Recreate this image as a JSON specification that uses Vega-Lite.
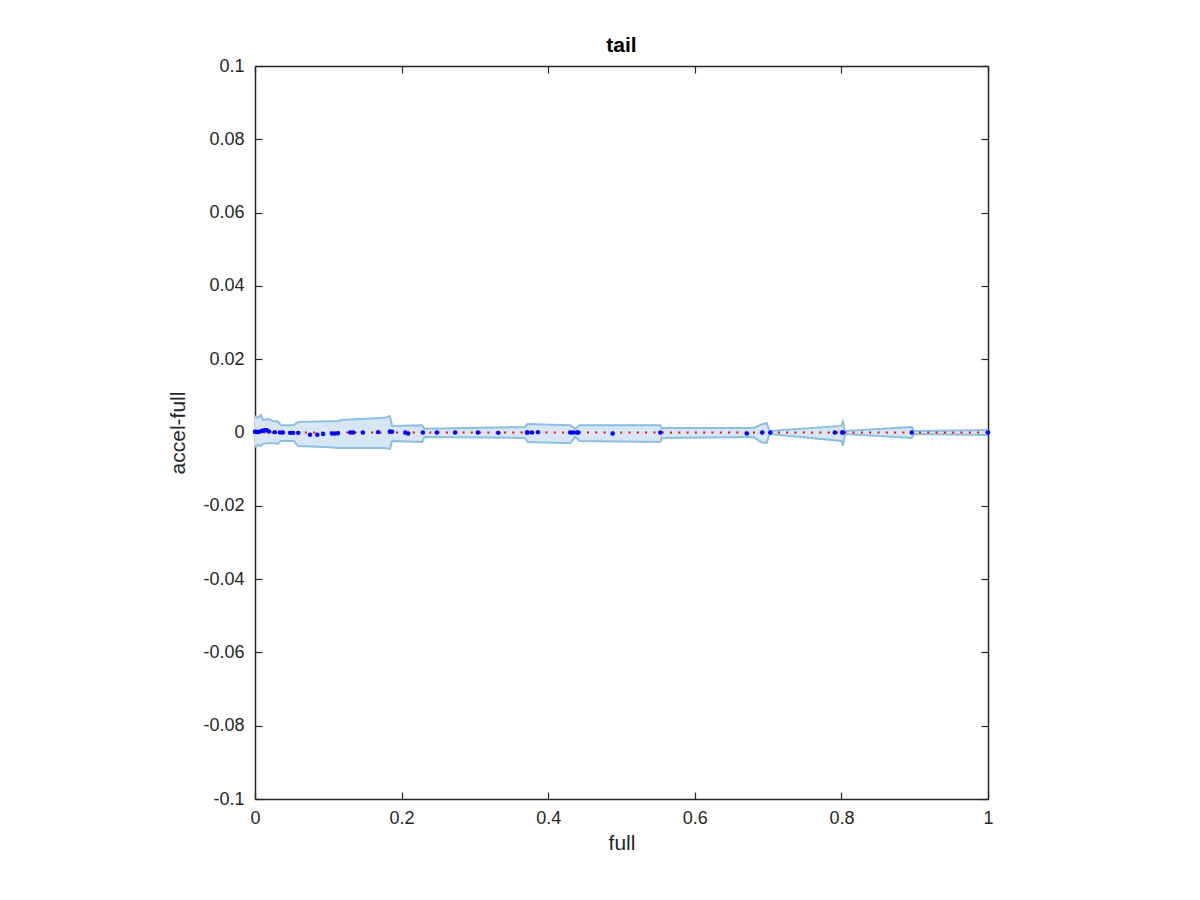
{
  "$schema": "https://vega.github.io/schema/vega-lite/v6.json",
  "width": 733,
  "height": 733,
  "autosize": {"type": "none"},
  "padding": {"left": 255, "top": 66, "right": 212, "bottom": 101},
  "background": "white",
  "config": {
    "view": {"stroke": null},
    "font": "Liberation Sans",
    "axis": {
      "domainColor": "#262626", "domainWidth": 1.5, "tickColor": "#262626", "tickWidth": 1.2,
      "labelColor": "#262626", "labelFontSize": 18, "labelFont": "Liberation Sans", "labelFlush": false,
      "titleColor": "#262626", "titleFontSize": 21, "titleFontWeight": "normal", "titleFont": "Liberation Sans",
      "grid": false
    }
  },
  "title": {"text": "tail", "fontSize": 21, "fontWeight": "bold", "color": "#000000", "font": "Liberation Sans", "offset": 1},
  "datasets": {
    "band": [
      {"x":0,"u":0.0045,"l":-0.0040},
      {"x":0.004,"u":0.0040,"l":-0.0034},
      {"x":0.008,"u":0.0048,"l":-0.0037},
      {"x":0.011,"u":0.0034,"l":-0.0031},
      {"x":0.018,"u":0.0037,"l":-0.0029},
      {"x":0.025,"u":0.0031,"l":-0.0029},
      {"x":0.031,"u":0.0031,"l":-0.0031},
      {"x":0.035,"u":0.0020,"l":-0.0023},
      {"x":0.053,"u":0.0020,"l":-0.0023},
      {"x":0.059,"u":0.0029,"l":-0.0037},
      {"x":0.102,"u":0.0031,"l":-0.0040},
      {"x":0.113,"u":0.0031,"l":-0.0042},
      {"x":0.117,"u":0.0034,"l":-0.0042},
      {"x":0.177,"u":0.0040,"l":-0.0042},
      {"x":0.184,"u":0.0045,"l":-0.0045},
      {"x":0.187,"u":0.0018,"l":-0.0023},
      {"x":0.228,"u":0.0020,"l":-0.0026},
      {"x":0.231,"u":0.0010,"l":-0.0012},
      {"x":0.368,"u":0.0015,"l":-0.0015},
      {"x":0.372,"u":0.0023,"l":-0.0026},
      {"x":0.430,"u":0.0020,"l":-0.0029},
      {"x":0.437,"u":0.0010,"l":-0.0012},
      {"x":0.443,"u":0.0020,"l":-0.0023},
      {"x":0.553,"u":0.0020,"l":-0.0026},
      {"x":0.555,"u":0.0012,"l":-0.0015},
      {"x":0.680,"u":0.0012,"l":-0.0012},
      {"x":0.690,"u":0.0021,"l":-0.0026},
      {"x":0.698,"u":0.0026,"l":-0.0029},
      {"x":0.702,"u":0.0004,"l":-0.0004},
      {"x":0.800,"u":0.0018,"l":-0.0023},
      {"x":0.802,"u":0.0030,"l":-0.0036},
      {"x":0.805,"u":0.0004,"l":-0.0004},
      {"x":0.896,"u":0.0015,"l":-0.0015},
      {"x":0.899,"u":0.0004,"l":-0.0004},
      {"x":1.0,"u":0.0007,"l":-0.0007}
    ],
    "mean": [{"x":0,"y":0},{"x":1,"y":0}],
    "pts": [
      {"x":0,"y":0.0002},{"x":0.002,"y":0.0002},{"x":0.004,"y":0.0001},{"x":0.007,"y":0.0003},
      {"x":0.010,"y":0.0005},{"x":0.013,"y":0.0006},{"x":0.016,"y":0.0006},{"x":0.019,"y":0.0003},
      {"x":0.027,"y":0.0001},{"x":0.034,"y":0},{"x":0.038,"y":0},
      {"x":0.048,"y":-0.0001},{"x":0.052,"y":-0.0001},{"x":0.059,"y":-0.0001},
      {"x":0.075,"y":-0.0006},{"x":0.085,"y":-0.0006},{"x":0.093,"y":-0.0004},
      {"x":0.105,"y":-0.0003},{"x":0.109,"y":-0.0003},{"x":0.113,"y":-0.0002},
      {"x":0.130,"y":0},{"x":0.134,"y":0},{"x":0.147,"y":0},{"x":0.168,"y":0.0001},
      {"x":0.184,"y":0.0003},{"x":0.187,"y":0.0002},
      {"x":0.205,"y":0},{"x":0.209,"y":-0.0003},{"x":0.229,"y":0},{"x":0.248,"y":0},
      {"x":0.273,"y":0},{"x":0.304,"y":0},{"x":0.332,"y":-0.0001},
      {"x":0.371,"y":0},{"x":0.372,"y":0},{"x":0.378,"y":0},{"x":0.386,"y":0.0001},
      {"x":0.430,"y":0},{"x":0.434,"y":0},{"x":0.439,"y":0},{"x":0.441,"y":0},
      {"x":0.488,"y":-0.0003},{"x":0.553,"y":0},{"x":0.671,"y":-0.0003},{"x":0.692,"y":0},
      {"x":0.703,"y":0},{"x":0.791,"y":0},{"x":0.801,"y":0},{"x":0.802,"y":0},
      {"x":0.896,"y":0},{"x":1.0,"y":0}
    ]
  },
  "resolve": {"axis": {"x": "independent", "y": "independent"}},
  "layer": [
    {
      "data": {"name": "band"},
      "mark": {"type": "area", "color": "#d6e6f4", "opacity": 1},
      "encoding": {
        "x": {"field": "x", "type": "quantitative", "scale": {"domain": [0, 1], "nice": false, "zero": false},
              "axis": {"orient": "bottom", "title": "full", "values": [0, 0.2, 0.4, 0.6, 0.8, 1], "labelExpr": "'' + datum.value", "tickSize": -7, "labelPadding": 17, "titlePadding": 5}},
        "y": {"field": "u", "type": "quantitative", "scale": {"domain": [-0.1, 0.1], "nice": false, "zero": false},
              "axis": {"orient": "left", "title": "accel-full", "values": [-0.1, -0.08, -0.06, -0.04, -0.02, 0, 0.02, 0.04, 0.06, 0.08, 0.1], "labelExpr": "'' + datum.value", "tickSize": -7, "labelPadding": 18, "titlePadding": 14}},
        "y2": {"field": "l"}
      }
    },
    {
      "data": {"name": "band"},
      "mark": {"type": "line", "color": "#8cbfe0", "strokeWidth": 2},
      "encoding": {
        "x": {"field": "x", "type": "quantitative", "scale": {"domain": [0, 1], "nice": false, "zero": false},
              "axis": {"orient": "top", "title": null, "labels": false, "values": [0, 0.2, 0.4, 0.6, 0.8, 1], "tickSize": -7}},
        "y": {"field": "u", "type": "quantitative", "scale": {"domain": [-0.1, 0.1], "nice": false, "zero": false},
              "axis": {"orient": "right", "title": null, "labels": false, "values": [-0.1, -0.08, -0.06, -0.04, -0.02, 0, 0.02, 0.04, 0.06, 0.08, 0.1], "tickSize": -7}}
      }
    },
    {
      "data": {"name": "band"},
      "mark": {"type": "line", "color": "#8cbfe0", "strokeWidth": 2},
      "encoding": {
        "x": {"field": "x", "type": "quantitative", "axis": null},
        "y": {"field": "l", "type": "quantitative", "axis": null}
      }
    },
    {
      "data": {"name": "mean"},
      "mark": {"type": "line", "color": "#ff0000", "strokeWidth": 2, "strokeDash": [2, 6.3], "strokeCap": "butt"},
      "encoding": {
        "x": {"field": "x", "type": "quantitative", "axis": null},
        "y": {"field": "y", "type": "quantitative", "axis": null}
      }
    },
    {
      "data": {"name": "pts"},
      "mark": {"type": "circle", "color": "#0000ff", "opacity": 1, "size": 20},
      "encoding": {
        "x": {"field": "x", "type": "quantitative", "axis": null},
        "y": {"field": "y", "type": "quantitative", "axis": null}
      }
    }
  ]
}
